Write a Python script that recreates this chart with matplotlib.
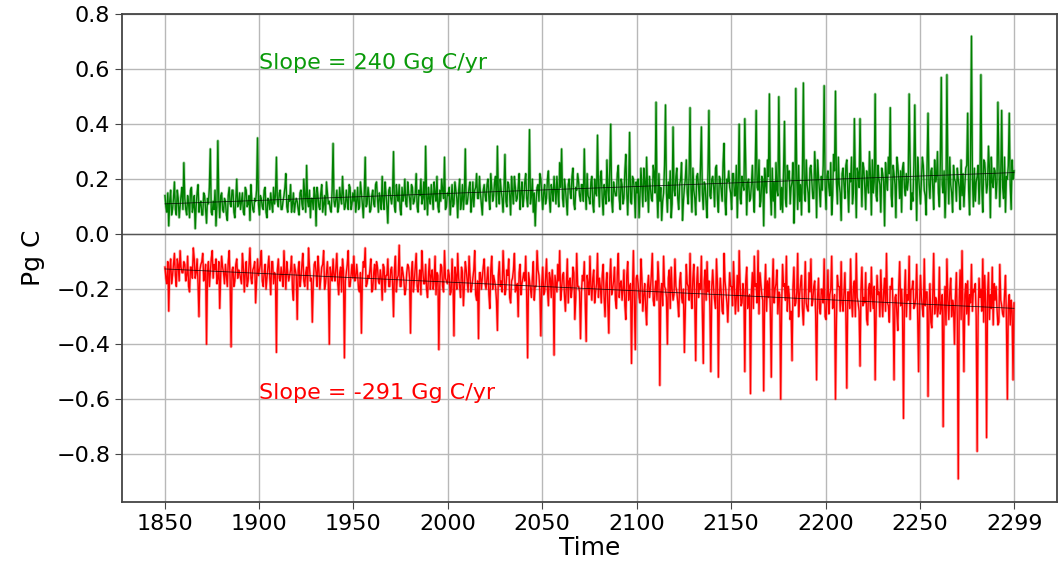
#!/usr/bin/env python3
"""
Half-yearly carbon flux series (Pg C) with linear trends, 1850-2299
"""
import numpy as np
import matplotlib
matplotlib.use("Agg")
import matplotlib.pyplot as plt

# years covered by the series
years = np.arange(1850, 2300)

# uptake series, first half of each year, in units of 0.01 Pg C
green_h1_cpg = [
    14, 8, 3, 16, 9, 19, 7, 13, 10, 17,
    26, 9, 14, 6, 17, 10, 2, 15, 8, 12,
    7, 14, 4, 11, 31, 7, 9, 3, 34, 6,
    15, 8, 12, 5, 17, 10, 16, 6, 20, 11,
    9, 15, 7, 16, 11, 5, 12, 8, 12, 35,
    7, 13, 9, 17, 6, 12, 15, 8, 11, 28,
    10, 16, 9, 14, 22, 8, 12, 8, 15, 11,
    12, 7, 16, 9, 14, 25, 10, 6, 13, 17,
    3, 14, 9, 18, 11, 7, 15, 12, 8, 33,
    10, 16, 10, 13, 21, 9, 16, 9, 17, 11,
    12, 8, 17, 10, 15, 6, 28, 11, 14, 9,
    16, 10, 19, 8, 13, 21, 9, 15, 4, 17,
    11, 30, 8, 14, 18, 7, 12, 20, 10, 15,
    9, 17, 12, 22, 8, 14, 11, 19, 32, 7,
    13, 18, 9, 15, 21, 8, 12, 16, 28, 10,
    14, 7, 18, 11, 16, 6, 20, 12, 9, 31,
    11, 17, 8, 19, 16, 22, 13, 15, 7, 18,
    12, 20, 9, 17, 14, 21, 32, 11, 16, 8,
    29, 10, 18, 7, 15, 21, 12, 17, 9, 19,
    13, 22, 10, 38, 14, 8, 3, 17, 12, 20,
    9, 18, 13, 23, 8, 16, 21, 11, 15, 26,
    31, 10, 17, 7, 20, 13, 24, 9, 16, 19,
    12, 18, 31, 9, 14, 11, 21, 8, 15, 36,
    10, 23, 7, 15, 27, 12, 40, 8, 16, 14,
    25, 9, 18, 13, 29, 7, 37, 11, 20, 6,
    15, 6, 24, 10, 19, 28, 8, 17, 12, 22,
    48, 6, 12, 5, 15, 47, 8, 13, 6, 39,
    14, 24, 9, 20, 5, 17, 27, 11, 46, 8,
    16, 7, 22, 12, 39, 9, 18, 6, 45, 13,
    21, 10, 25, 8, 20, 12, 33, 7, 19, 17,
    9, 22, 14, 6, 40, 11, 18, 42, 7, 20,
    13, 25, 8, 45, 16, 10, 21, 3, 18, 27,
    51, 7, 12, 6, 16, 50, 9, 8, 41, 10,
    20, 11, 19, 4, 53, 9, 12, 7, 55, 12,
    18, 8, 25, 13, 30, 6, 21, 10, 16, 54,
    9, 23, 14, 7, 29, 52, 11, 18, 5, 24,
    13, 27, 8, 19, 11, 42, 6, 22, 42, 10,
    24, 9, 18, 30, 7, 15, 51, 12, 20, 8,
    22, 3, 20, 28, 46, 10, 22, 6, 25, 13,
    8, 26, 14, 16, 51, 9, 12, 47, 5, 21,
    11, 28, 16, 7, 44, 13, 24, 9, 19, 30,
    10, 57, 15, 6, 58, 11, 18, 8, 20, 12,
    20, 9, 14, 10, 24, 44, 7, 72, 10, 12,
    21, 11, 58, 8, 26, 15, 32, 6, 19, 24,
    13, 48, 10, 45, 13, 8, 20, 44, 9, 20,
]

# uptake series, second half of each year, in units of 0.01 Pg C
green_h2_cpg = [
    10, 15, 12, 7, 13, 9, 16, 6, 14, 9,
    13, 7, 11, 16, 8, 14, 10, 18, 11, 7,
    15, 9, 13, 17, 8, 12, 16, 10, 12, 14,
    9, 13, 7, 14, 11, 16, 8, 13, 10, 15,
    12, 8, 17, 10, 14, 18, 9, 13, 16, 11,
    14, 10, 16, 8, 13, 9, 11, 17, 14, 12,
    15, 9, 12, 17, 10, 14, 18, 11, 8, 13,
    9, 15, 11, 20, 8, 12, 16, 13, 9, 14,
    17, 10, 15, 8, 14, 19, 11, 9, 16, 12,
    13, 8, 17, 11, 14, 10, 12, 18, 9, 15,
    16, 12, 9, 19, 11, 15, 10, 17, 8, 14,
    11, 18, 13, 15, 9, 12, 19, 10, 16, 13,
    15, 10, 18, 12, 9, 17, 14, 11, 19, 13,
    18, 11, 15, 10, 16, 20, 13, 9, 14, 17,
    11, 14, 19, 12, 10, 16, 20, 13, 9, 15,
    17, 12, 10, 19, 13, 16, 9, 18, 14, 11,
    14, 19, 12, 10, 17, 13, 21, 11, 16, 14,
    18, 13, 22, 12, 19, 10, 15, 20, 13, 17,
    12, 19, 14, 21, 11, 17, 13, 22, 15, 10,
    19, 13, 17, 11, 20, 15, 12, 18, 22, 14,
    15, 11, 20, 13, 18, 12, 16, 21, 10, 17,
    13, 20, 12, 18, 15, 21, 11, 17, 22, 14,
    18, 12, 16, 22, 13, 19, 11, 20, 14, 17,
    21, 13, 18, 11, 16, 24, 12, 19, 14, 22,
    13, 20, 11, 23, 15, 18, 12, 21, 16, 19,
    20, 14, 17, 24, 12, 16, 21, 13, 25, 15,
    14, 22, 17, 12, 25, 15, 19, 23, 11, 16,
    21, 13, 18, 26, 12, 20, 15, 22, 16, 24,
    13, 21, 17, 24, 15, 19, 11, 23, 14, 20,
    17, 24, 13, 21, 16, 26, 12, 20, 23, 15,
    22, 14, 25, 18, 13, 21, 16, 24, 19, 12,
    18, 14, 23, 17, 27, 12, 20, 24, 15, 21,
    16, 24, 19, 26, 14, 21, 17, 23, 13, 25,
    23, 17, 26, 14, 20, 25, 18, 22, 15, 27,
    15, 24, 19, 13, 22, 27, 16, 21, 25, 18,
    21, 17, 26, 14, 23, 19, 28, 15, 22, 18,
    25, 16, 22, 28, 15, 20, 24, 17, 21, 26,
    17, 23, 15, 21, 27, 19, 14, 25, 18, 24,
    19, 26, 16, 22, 14, 25, 18, 28, 20, 23,
    24, 17, 22, 19, 27, 15, 25, 20, 28, 16,
    20, 25, 14, 26, 18, 23, 17, 27, 21, 15,
    26, 18, 23, 16, 21, 28, 15, 25, 19, 24,
    17, 27, 22, 18, 25, 16, 29, 20, 24, 19,
    25, 19, 16, 27, 21, 18, 24, 28, 17, 23,
    19, 26, 22, 17, 28, 21, 25, 18, 27, 23,
]

# release series, first half of each year, in units of 0.01 Pg C
red_h1_cpg = [
    -12, -18, -28, -9, -15, -7, -19, -11, -6, -14,
    -10, -17, -8, -21, -12, -5, -16, -9, -30, -11,
    -7, -15, -40, -10, -14, -6, -11, -9, -16, -27,
    -8, -14, -11, -19, -6, -41, -12, -17, -9, -13,
    -16, -7, -21, -10, -17, -5, -18, -12, -25, -9,
    -13, -6, -19, -11, -16, -8, -22, -10, -14, -43,
    -9, -17, -15, -6, -20, -14, -15, -8, -24, -13,
    -31, -10, -16, -7, -19, -12, -5, -17, -32, -11,
    -14, -8, -20, -12, -6, -18, -10, -40, -15, -9,
    -17, -7, -22, -12, -9, -45, -14, -6, -19, -11,
    -8, -16, -15, -21, -36, -10, -5, -18, -16, -9,
    -20, -11, -10, -17, -13, -24, -12, -15, -9, -19,
    -12, -30, -8, -16, -4, -19, -14, -22, -14, -12,
    -36, -10, -17, -7, -21, -13, -6, -18, -11, -23,
    -9, -15, -20, -8, -14, -42, -11, -19, -6, -17,
    -13, -22, -9, -37, -15, -7, -19, -12, -26, -10,
    -17, -8, -21, -16, -6, -24, -38, -14, -16, -9,
    -20, -12, -27, -8, -15, -19, -35, -10, -17, -6,
    -22, -13, -9, -25, -16, -7, -20, -30, -11, -18,
    -14, -8, -45, -17, -23, -10, -19, -6, -15, -37,
    -12, -21, -9, -26, -16, -13, -44, -18, -11, -6,
    -20, -14, -28, -9, -17, -23, -12, -31, -7, -19,
    -38, -15, -10, -39, -18, -8, -24, -13, -21, -7,
    -16, -25, -11, -30, -14, -36, -9, -20, -12, -27,
    -7, -18, -24, -13, -31, -10, -19, -47, -6, -42,
    -15, -23, -9, -28, -18, -33, -15, -20, -7, -26,
    -17, -10, -55, -18, -8, -20, -40, -13, -12, -24,
    -9, -21, -30, -14, -25, -43, -11, -19, -7, -27,
    -11, -46, -12, -18, -8, -47, -13, -10, -17, -50,
    -13, -24, -9, -52, -16, -28, -7, -21, -32, -14,
    -19, -10, -29, -15, -6, -26, -18, -50, -12, -23,
    -58, -14, -8, -18, -6, -14, -22, -57, -11, -17,
    -16, -52, -9, -20, -13, -21, -60, -11, -18, -8,
    -19, -31, -46, -12, -25, -7, -22, -15, -33, -10,
    -27, -14, -9, -24, -17, -53, -16, -29, -20, -9,
    -31, -13, -22, -8, -26, -60, -15, -19, -10, -28,
    -14, -56, -21, -9, -30, -17, -7, -25, -48, -12,
    -23, -14, -33, -18, -12, -27, -53, -15, -21, -13,
    -30, -16, -7, -26, -19, -16, -53, -22, -35, -10,
    -20, -67, -13, -22, -8, -20, -17, -26, -11, -50,
    -15, -27, -9, -21, -59, -18, -34, -7, -23, -30,
    -12, -26, -70, -19, -9, -31, -16, -24, -40, -14,
    -89, -13, -6, -50, -18, -17, -22, -11, -20, -18,
    -79, -16, -20, -9, -15, -74, -14, -22, -12, -18,
    -19, -33, -11, -26, -30, -15, -60, -22, -24, -53,
]

# release series, second half of each year, in units of 0.01 Pg C
red_h2_cpg = [
    -16, -10, -13, -18, -11, -15, -9, -17, -12, -14,
    -11, -15, -19, -12, -16, -9, -14, -18, -13, -10,
    -17, -11, -14, -19, -9, -16, -13, -18, -10, -15,
    -12, -18, -15, -10, -17, -13, -19, -11, -16, -14,
    -18, -12, -14, -19, -11, -16, -13, -10, -17, -15,
    -11, -17, -14, -20, -12, -16, -10, -18, -15, -13,
    -16, -12, -19, -14, -10, -17, -13, -20, -11, -15,
    -13, -19, -11, -17, -14, -20, -12, -16, -18, -10,
    -19, -13, -16, -11, -20, -14, -18, -12, -17, -15,
    -12, -18, -14, -21, -13, -17, -11, -19, -15, -16,
    -17, -11, -20, -14, -16, -12, -19, -15, -13, -21,
    -14, -20, -12, -18, -16, -11, -21, -15, -19, -13,
    -18, -13, -21, -15, -19, -12, -17, -20, -11, -16,
    -14, -21, -12, -19, -16, -22, -13, -18, -20, -15,
    -20, -13, -17, -22, -15, -19, -12, -21, -16, -18,
    -15, -21, -17, -12, -20, -16, -23, -14, -19, -13,
    -21, -15, -19, -13, -22, -17, -14, -20, -12, -18,
    -16, -22, -13, -20, -17, -24, -15, -19, -21, -14,
    -20, -15, -23, -17, -13, -21, -18, -14, -22, -16,
    -17, -22, -14, -20, -16, -24, -19, -13, -21, -18,
    -22, -16, -20, -14, -23, -18, -15, -21, -17, -24,
    -15, -22, -18, -25, -16, -20, -14, -23, -19, -21,
    -21, -17, -24, -15, -22, -19, -16, -25, -18, -23,
    -19, -15, -23, -18, -26, -16, -22, -17, -24, -14,
    -23, -17, -20, -26, -15, -24, -18, -21, -25, -16,
    -18, -25, -16, -22, -27, -19, -23, -15, -24, -20,
    -24, -17, -21, -26, -19, -23, -16, -27, -20, -22,
    -19, -25, -17, -23, -20, -27, -18, -24, -22, -16,
    -25, -18, -23, -20, -28, -17, -24, -21, -26, -19,
    -20, -27, -18, -24, -21, -29, -17, -25, -22, -19,
    -26, -19, -23, -28, -18, -25, -21, -17, -27, -22,
    -21, -27, -19, -25, -29, -18, -24, -20, -28, -23,
    -27, -20, -25, -18, -29, -22, -26, -19, -24, -28,
    -22, -28, -19, -26, -21, -30, -18, -27, -23, -25,
    -28, -21, -26, -19, -29, -23, -27, -20, -25, -30,
    -23, -29, -20, -27, -22, -31, -19, -28, -25, -21,
    -29, -21, -27, -24, -19, -30, -23, -28, -20, -26,
    -25, -31, -20, -28, -23, -19, -29, -22, -30, -24,
    -21, -28, -25, -32, -20, -27, -23, -29, -19, -26,
    -28, -22, -30, -24, -31, -20, -27, -23, -29, -25,
    -23, -30, -26, -21, -28, -32, -22, -29, -24, -27,
    -29, -22, -27, -33, -24, -21, -30, -26, -23, -31,
    -24, -31, -27, -22, -29, -33, -25, -28, -21, -30,
    -30, -23, -28, -32, -25, -22, -31, -27, -33, -24,
    -27, -32, -24, -29, -22, -31, -26, -33, -28, -25,
]

slope_labels = ["Slope = 240 Gg C/yr", "Slope = -291 Gg C/yr"]
tick_years = [1850, 1900, 1950, 2000, 2050, 2100, 2150, 2200, 2250, 2300]
tick_labels = ["1850", "1900", "1950", "2000", "2050", "2100", "2150",
               "2200", "2250", "2299"]


def half_yearly(first, second):
    """Interleave the two half-year lists into one series in Pg C"""
    return np.column_stack([first, second]).ravel() / 100.0


def plot_series():
    green = half_yearly(green_h1_cpg, green_h2_cpg)
    red = half_yearly(red_h1_cpg, red_h2_cpg)
    x = np.column_stack([years + 0.25, years + 0.75]).ravel()

    fig = plt.figure(figsize=(10.61, 5.67), dpi=100)
    ax = fig.add_axes([0.115, 0.115, 0.881, 0.861])

    ax.grid(True, color='#b8b8b8', linewidth=1.0)
    ax.set_axisbelow(True)
    ax.axhline(0, color='#555555', linewidth=1.0, zorder=1)

    # faint wide copy under a solid line gives the soft band edges
    for series, color in ((green, 'green'), (red, 'red')):
        ax.plot(x, series, color=color, linewidth=2.0, alpha=0.3, zorder=2)
        ax.plot(x, series, color=color, linewidth=1.0, zorder=2)

    # linear trends fitted to each series
    for series in (green, red):
        coef = np.polyfit(x, series, 1)
        ax.plot(x, np.polyval(coef, x), color='black', linewidth=0.6,
                alpha=0.8, zorder=3)

    ax.text(1900, 0.6, slope_labels[0], color='#0a9a0a', fontsize=16)
    ax.text(1900, -0.6, slope_labels[1], color='red', fontsize=16)

    ax.set_xlim(1827.5, 2322.4)
    ax.set_ylim(-0.973, 0.802)
    ax.set_xticks(tick_years)
    ax.set_xticklabels(tick_labels)
    ax.set_yticks(np.arange(-0.8, 0.81, 0.2))
    ax.tick_params(labelsize=16, length=5, color='#444444')
    ax.set_xlabel('Time', fontsize=18, labelpad=2)
    ax.set_ylabel('Pg C', fontsize=18, labelpad=8)

    for spine in ax.spines.values():
        spine.set_edgecolor('#444444')
        spine.set_linewidth(1.3)

    fig.savefig('out.png', dpi=100)
    plt.close(fig)
    print("Saved out.png")


if __name__ == "__main__":
    plot_series()
